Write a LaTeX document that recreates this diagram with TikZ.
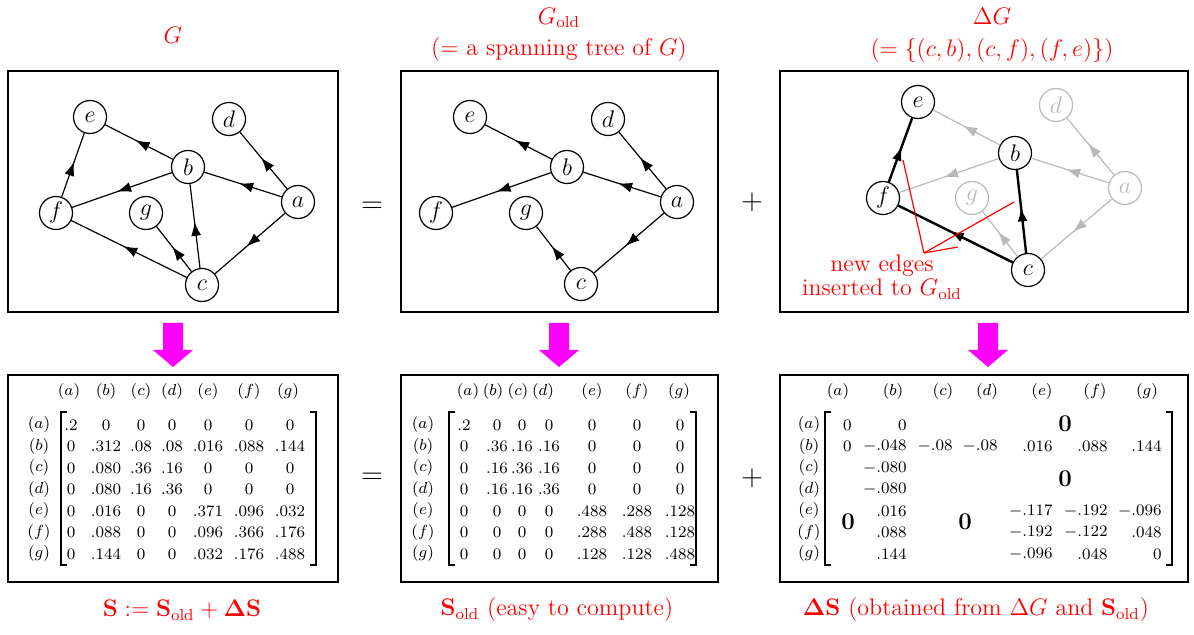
\documentclass[tikz,border=0pt]{standalone}
\usepackage{amsmath, amssymb}
\usepackage{tikz}
\usetikzlibrary{arrows.meta, decorations.markings}

\definecolor{arrowpink}{RGB}{255,0,255}

\tikzset{
  vtx/.style={circle, draw, semithick, minimum size=16.5pt, inner sep=0pt, font=\large},
  fadedvtx/.style={vtx, draw=gray!55, text=gray!55},
  midarrow/.style={postaction={decorate, decoration={markings,
      mark=at position 0.55 with {\arrow{Latex[length=7pt,width=5pt]}}}}},
  arc/.style={semithick, midarrow},
  fadedarc/.style={arc, gray!55},
  newarc/.style={line width=1.2pt, midarrow},
  panel/.style={line width=1pt},
  title/.style={red, font=\large},
  entry/.style={font=\footnotesize, inner sep=0pt},
  bigzero/.style={font=\large, inner sep=0pt},
  op/.style={font=\Large},
}

\begin{document}
\begin{tikzpicture}[x=0.5pt, y=-0.5pt]
    \useasboundingbox (0,0) rectangle (1194,635);

    % titles
    \node[title] (t-G) at (173,35) {$G$};
    \node[title] (t-Go) at (559,18) {$G_{\rm old}$};
    \node[title] (t-Go2) at (559,50) {$(=$ a spanning tree of $G)$};
    \node[title] (t-dG) at (992,16) {$\Delta G$};
    \node[title] (t-dG2) at (992,51) {$(=\{(c,b),(c,f),(f,e)\})$};

    % panels
    \draw[panel] (8,71) rectangle (338,312);
    \draw[panel] (401,71) rectangle (718,312);
    \draw[panel] (780,71) rectangle (1188,312);
    \draw[panel] (8,375) rectangle (338,582);
    \draw[panel] (401,375) rectangle (718,582);
    \draw[panel] (780,375) rectangle (1188,582);

    \node[op] (eq1) at (372,207) {$=$};
    \node[op] (pl1) at (752,202) {$+$};
    \node[op] (eq2) at (372,478) {$=$};
    \node[op] (pl2) at (752,478) {$+$};

    % G
    \node[vtx] (G-e) at (90,117) {$e$};
    \node[vtx] (G-d) at (229,119) {$d$};
    \node[vtx] (G-b) at (188,167) {$b$};
    \node[vtx] (G-a) at (298,202) {$a$};
    \node[vtx] (G-f) at (56,213) {$f$};
    \node[vtx] (G-g) at (146,213) {$g$};
    \node[vtx] (G-c) at (202,285) {$c$};
    \draw[arc] (G-b) -- (G-e);
    \draw[arc] (G-a) -- (G-d);
    \draw[arc] (G-a) -- (G-b);
    \draw[arc] (G-b) -- (G-f);
    \draw[arc] (G-f) -- (G-e);
    \draw[arc] (G-c) -- (G-b);
    \draw[arc] (G-c) -- (G-g);
    \draw[arc] (G-c) -- (G-f);
    \draw[arc] (G-a) -- (G-c);

    % G_old
    \node[vtx] (Go-e) at (470,117) {$e$};
    \node[vtx] (Go-d) at (608,119) {$d$};
    \node[vtx] (Go-b) at (567,167) {$b$};
    \node[vtx] (Go-a) at (677,202) {$a$};
    \node[vtx] (Go-f) at (436,213) {$f$};
    \node[vtx] (Go-g) at (526,213) {$g$};
    \node[vtx] (Go-c) at (581,284) {$c$};
    \draw[arc] (Go-b) -- (Go-e);
    \draw[arc] (Go-a) -- (Go-d);
    \draw[arc] (Go-a) -- (Go-b);
    \draw[arc] (Go-b) -- (Go-f);
    \draw[arc] (Go-c) -- (Go-g);
    \draw[arc] (Go-a) -- (Go-c);

    % Delta G
    \node[vtx] (dG-e) at (918,102) {$e$};
    \node[fadedvtx] (dG-d) at (1056,105) {$d$};
    \node[vtx] (dG-b) at (1015,153) {$b$};
    \node[fadedvtx] (dG-a) at (1125,188) {$a$};
    \node[vtx] (dG-f) at (883,198) {$f$};
    \node[fadedvtx] (dG-g) at (972,198) {$g$};
    \node[vtx] (dG-c) at (1028,270) {$c$};
    \draw[fadedarc] (dG-b) -- (dG-e);
    \draw[fadedarc] (dG-a) -- (dG-d);
    \draw[fadedarc] (dG-a) -- (dG-b);
    \draw[fadedarc] (dG-b) -- (dG-f);
    \draw[fadedarc] (dG-c) -- (dG-g);
    \draw[fadedarc] (dG-a) -- (dG-c);
    \draw[newarc] (dG-f) -- (dG-e);
    \draw[newarc] (dG-c) -- (dG-f);
    \draw[newarc] (dG-c) -- (dG-b);

    % pointer to the new edges
    \node[red, font=\large, align=center, inner sep=0pt] (newlbl) at (882,277)
        {new edges\\[-2pt]inserted to $G_{\rm old}$};
    \coordinate (hub) at (924,253);
    \coordinate (on-fe) at (903,160);
    \coordinate (on-cb) at (1014,202);
    \coordinate (on-cf) at (958,247);
    \draw[red, line width=0.6pt] (hub) -- (on-fe);
    \draw[red, line width=0.6pt] (hub) -- (on-cb);
    \draw[red, line width=0.6pt] (hub) -- (on-cf);

    % magenta arrows
    \foreach \x in {173,559,988}
        \fill[arrowpink] ({\x-10},323) -- ({\x+10},323) -- ({\x+10},350) -- ({\x+20},350)
            -- (\x,367) -- ({\x-20},350) -- ({\x-10},350) -- cycle;

    % S
    \foreach \r [count=\i] in {a,b,c,d,e,f,g} {
        \node[entry] (S-r\r) at (39,{425+21.5*(\i-1)}) {$(\r)$};
        \pgfmathsetmacro\cx{{69,106,141,172,208,249,288}[\i-1]}
        \node[entry] (S-c\r) at (\cx,392) {$(\r)$};
    }
    \foreach \row [count=\i] in {{.2,0,0,0,0,0,0},{0,.312,.08,.08,.016,.088,.144},
        {0,.080,.36,.16,0,0,0},{0,.080,.16,.36,0,0,0},{0,.016,0,0,.371,.096,.032},
        {0,.088,0,0,.096,.366,.176},{0,.144,0,0,.032,.176,.488}}
        \foreach \v [count=\j] in \row {
            \pgfmathsetmacro\cx{{71,106,141,172,208,249,290}[\j-1]}
            \node[entry] (S-\i-\j) at (\cx,{425+21.5*(\i-1)}) {$\v$};
        }
    \draw[thick] (67,412) -- (61,412) -- (61,565) -- (67,565);
    \draw[thick] (310,412) -- (316,412) -- (316,565) -- (310,565);

    % S_old
    \foreach \r [count=\i] in {a,b,c,d,e,f,g} {
        \node[entry] (So-r\r) at (423,{425+21.5*(\i-1)}) {$(\r)$};
        \pgfmathsetmacro\cx{{468,493,518,543,592,637,679}[\i-1]}
        \node[entry] (So-c\r) at (\cx,392) {$(\r)$};
    }
    \foreach \row [count=\i] in {{.2,0,0,0,0,0,0},{0,.36,.16,.16,0,0,0},
        {0,.16,.36,.16,0,0,0},{0,.16,.16,.36,0,0,0},{0,0,0,0,.488,.288,.128},
        {0,0,0,0,.288,.488,.128},{0,0,0,0,.128,.128,.488}}
        \foreach \v [count=\j] in \row {
            \pgfmathsetmacro\cx{{464,497,522,549,592,637,680}[\j-1]}
            \node[entry] (So-\i-\j) at (\cx,{425+21.5*(\i-1)}) {$\v$};
        }
    \draw[thick] (455,412) -- (449,412) -- (449,565) -- (455,565);
    \draw[thick] (690,412) -- (696,412) -- (696,565) -- (690,565);

    % Delta S (right aligned columns)
    \foreach \r [count=\i] in {a,b,c,d,e,f,g} {
        \node[entry] (dS-r\r) at (809,{425+21.5*(\i-1)}) {$(\r)$};
        \pgfmathsetmacro\cx{{838,893,943,987,1042,1095,1147}[\i-1]}
        \node[entry] (dS-c\r) at (\cx,392) {$(\r)$};
    }
    \foreach \v/\x [count=\j] in {0/852,0/907}
        \node[entry, anchor=east] (dS-1-\j) at (\x,425) {$\v$};
    \foreach \v/\x [count=\j] in {0/852,-.048/907,-.08/953,-.08/998,.016/1053,.088/1108,.144/1162}
        \node[entry, anchor=east] (dS-2-\j) at (\x,446.5) {$\v$};
    \node[entry, anchor=east] (dS-3-2) at (907,468) {$-.080$};
    \node[entry, anchor=east] (dS-4-2) at (907,489.5) {$-.080$};
    \foreach \v/\x [count=\j] in {.016/907,-.117/1053,-.192/1108,-.096/1162}
        \node[entry, anchor=east] (dS-5-\j) at (\x,511) {$\v$};
    \foreach \v/\x [count=\j] in {.088/907,-.192/1053,-.122/1108,.048/1162}
        \node[entry, anchor=east] (dS-6-\j) at (\x,532.5) {$\v$};
    \foreach \v/\x [count=\j] in {.144/907,-.096/1053,.048/1108,0/1162}
        \node[entry, anchor=east] (dS-7-\j) at (\x,554) {$\v$};
    \node[bigzero] (z-top) at (1065,424) {$\mathbf{0}$};
    \node[bigzero] (z-mid) at (1065,479) {$\mathbf{0}$};
    \node[bigzero] (z-left) at (848,522) {$\mathbf{0}$};
    \node[bigzero] (z-low) at (965,522) {$\mathbf{0}$};
    \draw[thick] (831,412) -- (825,412) -- (825,565) -- (831,565);
    \draw[thick] (1166,412) -- (1172,412) -- (1172,565) -- (1166,565);

    % captions
    \node[title] (b-S) at (182,610) {$\mathbf{S} := \mathbf{S}_{\rm old} + \mathbf{\Delta S}$};
    \node[title] (b-So) at (557,610) {$\mathbf{S}_{\rm old}$ (easy to compute)};
    \node[title] (b-dS) at (976,610) {$\mathbf{\Delta S}$ (obtained from $\Delta G$ and $\mathbf{S}_{\rm old}$)};
\end{tikzpicture}
\end{document}
